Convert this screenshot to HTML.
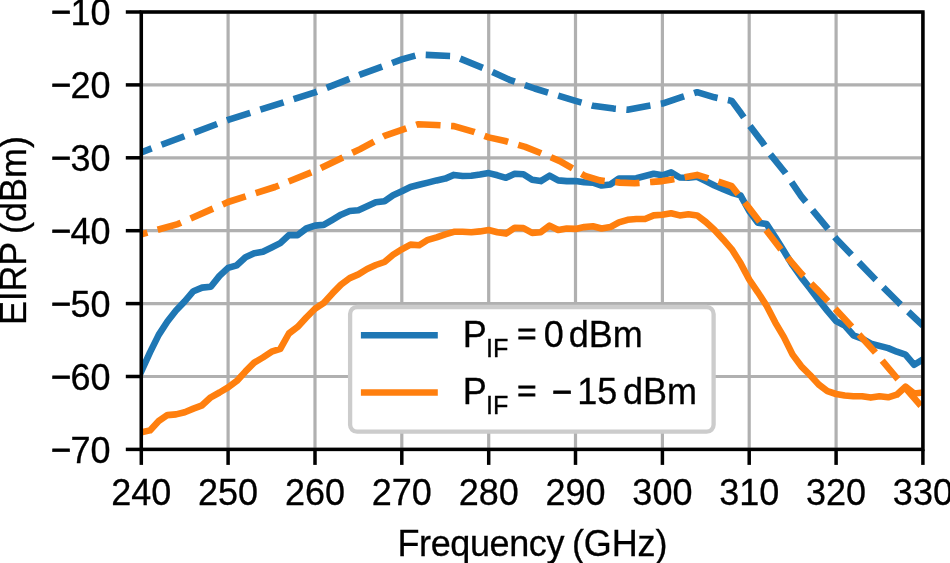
<!DOCTYPE html>
<html lang="en"><head><meta charset="utf-8"><title>EIRP vs Frequency</title>
<style>html,body{margin:0;padding:0;background:#fff;overflow:hidden;}svg{display:block;}text{font-family:"Liberation Sans",sans-serif;fill:#000;stroke:#000;stroke-width:0.3px;}</style></head><body>
<svg width="950" height="563" viewBox="0 0 950 563" style="will-change:transform">
<rect x="0" y="0" width="950" height="563" fill="#fff"/>
<defs><clipPath id="ax"><rect x="141.3" y="12.0" width="781.6" height="437.4"/></clipPath></defs>
<g stroke="#b0b0b0" stroke-width="3.2" fill="none">
<line x1="141.3" y1="12.0" x2="141.3" y2="449.4"/>
<line x1="228.1" y1="12.0" x2="228.1" y2="449.4"/>
<line x1="315.0" y1="12.0" x2="315.0" y2="449.4"/>
<line x1="401.8" y1="12.0" x2="401.8" y2="449.4"/>
<line x1="488.7" y1="12.0" x2="488.7" y2="449.4"/>
<line x1="575.5" y1="12.0" x2="575.5" y2="449.4"/>
<line x1="662.4" y1="12.0" x2="662.4" y2="449.4"/>
<line x1="749.2" y1="12.0" x2="749.2" y2="449.4"/>
<line x1="836.1" y1="12.0" x2="836.1" y2="449.4"/>
<line x1="922.9" y1="12.0" x2="922.9" y2="449.4"/>
<line x1="141.3" y1="449.4" x2="922.9" y2="449.4"/>
<line x1="141.3" y1="376.5" x2="922.9" y2="376.5"/>
<line x1="141.3" y1="303.6" x2="922.9" y2="303.6"/>
<line x1="141.3" y1="230.7" x2="922.9" y2="230.7"/>
<line x1="141.3" y1="157.8" x2="922.9" y2="157.8"/>
<line x1="141.3" y1="84.9" x2="922.9" y2="84.9"/>
<line x1="141.3" y1="12.0" x2="922.9" y2="12.0"/>
</g>
<g clip-path="url(#ax)" fill="none" stroke-width="6.6" stroke-linejoin="round">
<polyline stroke="#1f77b4" stroke-linecap="square" points="141.3,371.4 150.0,352.4 158.7,334.9 167.4,321.5 176.0,310.5 184.7,301.4 193.4,291.2 202.1,287.6 210.8,286.8 219.5,275.9 228.1,267.9 236.8,265.3 245.5,257.3 254.2,253.3 262.9,251.8 271.6,247.5 280.3,243.1 288.9,235.1 297.6,235.1 306.3,228.5 315.0,225.6 323.7,224.9 332.4,219.8 341.0,214.7 349.7,211.0 358.4,210.3 367.1,206.3 375.8,202.3 384.5,201.2 393.1,195.3 401.8,191.3 410.5,187.0 419.2,184.8 427.9,182.6 436.6,180.4 445.3,178.6 453.9,174.9 462.6,176.0 471.3,175.7 480.0,174.6 488.7,173.1 497.4,175.3 506.0,177.8 514.7,173.8 523.4,174.2 532.1,179.7 540.8,181.1 549.5,175.7 558.2,180.4 566.8,181.1 575.5,181.1 584.2,182.2 592.9,182.6 601.6,185.5 610.3,184.4 618.9,178.6 627.6,178.6 636.3,178.2 645.0,176.0 653.7,173.8 662.4,175.3 671.1,172.4 679.7,177.5 688.4,177.8 697.1,176.8 705.8,181.1 714.5,185.5 723.2,189.1 731.8,192.8 740.5,195.3 749.2,211.0 757.9,222.7 766.6,224.1 775.3,237.3 783.9,251.1 792.6,265.2 801.3,277.4 810.0,288.4 818.7,300.0 827.4,310.9 836.1,321.1 844.7,325.5 853.4,335.3 862.1,338.6 870.8,343.7 879.5,345.9 888.2,348.1 896.8,351.7 905.5,354.6 914.2,364.8 922.9,359.4"/>
<polyline stroke="#ff7f0e" stroke-linecap="square" points="141.3,432.3 150.0,430.4 158.7,421.0 167.4,415.1 176.0,414.4 184.7,412.2 193.4,408.6 202.1,405.3 210.8,397.3 219.5,392.5 228.1,387.4 236.8,380.9 245.5,371.4 254.2,362.6 262.9,357.5 271.6,351.7 280.3,348.8 288.9,333.5 297.6,326.9 306.3,317.5 315.0,308.7 323.7,302.9 332.4,293.4 341.0,284.6 349.7,278.1 358.4,274.4 367.1,269.0 375.8,265.0 384.5,262.0 393.1,254.8 401.8,249.3 410.5,244.6 419.2,245.3 427.9,239.8 436.6,237.3 445.3,234.3 453.9,231.8 462.6,231.8 471.3,232.2 480.0,231.4 488.7,230.0 497.4,232.2 506.0,233.6 514.7,227.8 523.4,228.1 532.1,232.9 540.8,232.2 549.5,225.6 558.2,230.0 566.8,228.5 575.5,228.9 584.2,227.1 592.9,226.3 601.6,228.5 610.3,227.1 618.9,222.3 627.6,219.8 636.3,219.0 645.0,219.0 653.7,215.4 662.4,214.7 671.1,213.2 679.7,215.4 688.4,214.3 697.1,215.4 705.8,222.0 714.5,230.0 723.2,239.4 731.8,249.3 740.5,263.1 749.2,279.5 757.9,292.3 766.6,305.8 775.3,322.6 783.9,337.1 792.6,354.6 801.3,366.3 810.0,375.0 818.7,384.5 827.4,391.1 836.1,394.0 844.7,395.5 853.4,396.2 862.1,396.2 870.8,397.6 879.5,396.2 888.2,397.3 896.8,394.7 905.5,386.7 914.2,393.6 922.9,392.5"/>
<polyline stroke="#1f77b4" stroke-dasharray="24.4 10.56" stroke-dashoffset="13.4" points="141.3,152.3 228.1,119.9 315.0,92.4 360.1,74.7 401.8,59.4 419.2,54.6 453.9,56.1 488.7,70.3 509.5,79.8 534.7,88.5 575.5,100.9 592.9,105.7 613.7,108.6 627.6,109.7 647.6,106.0 662.4,103.6 682.3,96.9 697.1,92.2 714.5,97.3 731.8,100.9 741.0,113.3 749.2,125.0 763.1,143.2 769.6,153.4 784.8,172.2 801.3,196.4 836.1,238.7 874.7,278.8 899.5,303.5 922.9,325.5"/>
<polyline stroke="#ff7f0e" stroke-dasharray="24.4 10.56" stroke-dashoffset="18.0" points="141.3,234.3 177.8,224.1 228.1,202.0 275.0,187.0 315.0,170.9 360.1,149.1 384.5,135.9 401.8,129.8 417.9,124.3 435.7,125.0 453.9,126.1 473.0,131.6 488.7,137.4 505.2,141.0 525.2,146.9 539.9,152.7 559.9,161.1 575.5,170.2 585.1,176.0 599.8,180.4 619.8,182.6 634.6,183.3 652.4,181.9 662.4,181.1 672.4,179.4 697.1,174.9 714.5,180.4 731.8,186.2 749.2,208.1 766.6,230.7 783.9,253.3 801.3,273.7 818.7,291.2 836.1,309.8 853.4,328.4 874.7,351.7 896.8,378.0 919.4,404.2 922.9,407.8"/>
</g>
<g stroke="#000" stroke-width="3.5">
<line x1="141.3" y1="449.4" x2="141.3" y2="464.9"/>
<line x1="228.1" y1="449.4" x2="228.1" y2="464.9"/>
<line x1="315.0" y1="449.4" x2="315.0" y2="464.9"/>
<line x1="401.8" y1="449.4" x2="401.8" y2="464.9"/>
<line x1="488.7" y1="449.4" x2="488.7" y2="464.9"/>
<line x1="575.5" y1="449.4" x2="575.5" y2="464.9"/>
<line x1="662.4" y1="449.4" x2="662.4" y2="464.9"/>
<line x1="749.2" y1="449.4" x2="749.2" y2="464.9"/>
<line x1="836.1" y1="449.4" x2="836.1" y2="464.9"/>
<line x1="922.9" y1="449.4" x2="922.9" y2="464.9"/>
<line x1="125.8" y1="449.4" x2="141.3" y2="449.4"/>
<line x1="125.8" y1="376.5" x2="141.3" y2="376.5"/>
<line x1="125.8" y1="303.6" x2="141.3" y2="303.6"/>
<line x1="125.8" y1="230.7" x2="141.3" y2="230.7"/>
<line x1="125.8" y1="157.8" x2="141.3" y2="157.8"/>
<line x1="125.8" y1="84.9" x2="141.3" y2="84.9"/>
<line x1="125.8" y1="12.0" x2="141.3" y2="12.0"/>
</g>
<rect x="141.3" y="12.0" width="781.6" height="437.4" fill="none" stroke="#000" stroke-width="3.5"/>
<g font-size="36.0">
<text x="141.3" y="504.8" text-anchor="middle">240</text>
<text x="228.1" y="504.8" text-anchor="middle">250</text>
<text x="315.0" y="504.8" text-anchor="middle">260</text>
<text x="401.8" y="504.8" text-anchor="middle">270</text>
<text x="488.7" y="504.8" text-anchor="middle">280</text>
<text x="575.5" y="504.8" text-anchor="middle">290</text>
<text x="662.4" y="504.8" text-anchor="middle">300</text>
<text x="749.2" y="504.8" text-anchor="middle">310</text>
<text x="836.1" y="504.8" text-anchor="middle">320</text>
<text x="922.9" y="504.8" text-anchor="middle">330</text>
<text transform="translate(51 461.6) scale(0.955 1)" style="stroke-width:0.8px">−</text><text x="110.6" y="462.7" text-anchor="end">70</text>
<text transform="translate(51 388.7) scale(0.955 1)" style="stroke-width:0.8px">−</text><text x="110.6" y="389.8" text-anchor="end">60</text>
<text transform="translate(51 315.8) scale(0.955 1)" style="stroke-width:0.8px">−</text><text x="110.6" y="316.9" text-anchor="end">50</text>
<text transform="translate(51 242.9) scale(0.955 1)" style="stroke-width:0.8px">−</text><text x="110.6" y="244.0" text-anchor="end">40</text>
<text transform="translate(51 170.0) scale(0.955 1)" style="stroke-width:0.8px">−</text><text x="110.6" y="171.1" text-anchor="end">30</text>
<text transform="translate(51 97.1) scale(0.955 1)" style="stroke-width:0.8px">−</text><text x="110.6" y="98.2" text-anchor="end">20</text>
<text transform="translate(51 24.2) scale(0.955 1)" style="stroke-width:0.8px">−</text><text x="110.6" y="25.3" text-anchor="end">10</text>
<text y="555.6"><tspan x="397.5" letter-spacing="-0.4">Frequency</tspan><tspan x="571.9" letter-spacing="-0.1">(GHz)</tspan></text>
<text transform="translate(26.1 229.5) rotate(-90)"><tspan x="-95.4" letter-spacing="-0.3">EIRP</tspan><tspan x="-4.6">(dBm)</tspan></text>
</g>
<rect x="350.1" y="307" width="363.5" height="124.7" rx="7" ry="7" fill="#fff" stroke="#ccc" stroke-width="4.3"/>
<line x1="360.9" y1="335.3" x2="437.8" y2="335.3" stroke="#1f77b4" stroke-width="6.6"/>
<line x1="360.9" y1="392.5" x2="437.8" y2="392.5" stroke="#ff7f0e" stroke-width="6.6"/>
<text font-size="36.0" x="462.75" y="347.1">P</text><text font-size="25.20" x="485.97" y="357.4">IF</text><text font-size="36.0" transform="translate(517.20 344.40) scale(0.915 0.83)" style="stroke-width:1.1px">=</text><text font-size="36.0" x="543.80" y="347.1">0</text><text font-size="36.0" x="568.70" y="347.1">dBm</text>
<text font-size="36.0" x="462.75" y="404.0">P</text><text font-size="25.20" x="485.97" y="414.3">IF</text><text font-size="36.0" transform="translate(517.20 401.30) scale(0.915 0.83)" style="stroke-width:1.1px">=</text><text font-size="36.0" transform="translate(551.90 403.5) scale(0.955 1)" style="stroke-width:0.8px">−</text><text font-size="36.0" x="577.20" y="404.0">15</text><text font-size="36.0" x="622.90" y="404.0">dBm</text>
</svg></body></html>
